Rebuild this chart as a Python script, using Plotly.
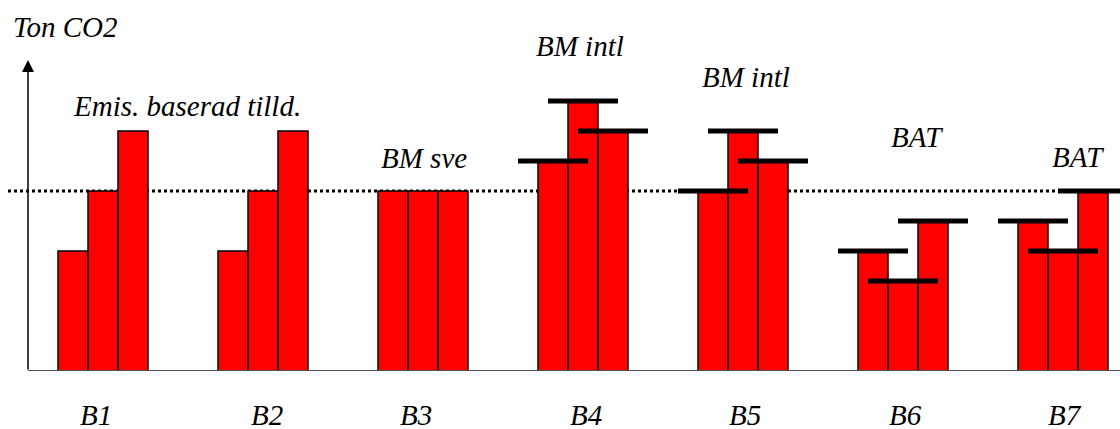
import plotly.graph_objects as go

# ---- data ----
groups = ["B1", "B2", "B3", "B4", "B5", "B6", "B7"]
bar_a = [2.0, 2.0, 3.0, 3.5, 3.0, 2.0, 2.5]
bar_b = [3.0, 3.0, 3.0, 4.5, 4.0, 1.5, 2.0]
bar_c = [4.0, 4.0, 3.0, 4.0, 3.5, 2.5, 3.0]
has_marker = [False, False, False, True, True, True, True]
ref_level = 3.0
y_label = "Ton CO2"
group_notes = ["Emis. baserad tilld.", "BM sve", "BM intl", "BM intl", "BAT", "BAT"]

# ---- layout helpers (pixel geometry of the 1120x429 canvas) ----
W, H = 1120, 429
PLOT_BOTTOM = 371          # pixel row of the zero line
PX_PER_GROUP = 160
X0_PX = 103                # pixel of first group centre
PX_PER_UNIT = 60
BAR_W = 30 / PX_PER_GROUP
MARK_HALF = 35 / PX_PER_GROUP

def xd(px):
    return (px - X0_PX) / PX_PER_GROUP

def yd(py):
    return (PLOT_BOTTOM - py) / PX_PER_UNIT

font_i = dict(family="Liberation Serif", size=29, color="black", style="italic")

fig = go.Figure()

# bars
xs, ys = [], []
for g, (a, b, c) in enumerate(zip(bar_a, bar_b, bar_c)):
    for j, v in enumerate((a, b, c)):
        xs.append(g + (j - 1) * BAR_W)
        ys.append(v)
fig.add_trace(go.Bar(
    x=xs, y=ys, width=BAR_W,
    marker=dict(color="#FF0000", line=dict(color="black", width=1.5)),
    showlegend=False, hoverinfo="skip",
))

# benchmark markers
mx, my = [], []
for g, (a, b, c) in enumerate(zip(bar_a, bar_b, bar_c)):
    if not has_marker[g]:
        continue
    for j, v in enumerate((a, b, c)):
        cx = g + (j - 1) * BAR_W
        mx += [cx - MARK_HALF, cx + MARK_HALF, None]
        my += [v, v, None]
fig.add_trace(go.Scatter(
    x=mx, y=my, mode="lines", line=dict(color="black", width=5),
    showlegend=False, hoverinfo="skip", cliponaxis=False,
))

shapes = [
    # dotted reference level
    dict(type="line", xref="x", yref="y", x0=xd(8), x1=xd(W), y0=ref_level, y1=ref_level,
         line=dict(color="black", width=3, dash="dot"), layer="below"),
    # x axis line
    dict(type="line", xref="x", yref="y", x0=xd(28), x1=xd(W), y0=0, y1=0,
         line=dict(color="#505050", width=2), layer="above"),
]

annotations = [
    # y axis with arrow
    dict(x=xd(28), y=yd(60), xref="x", yref="y", ax=xd(28), ay=0, axref="x", ayref="y",
         text="", showarrow=True, arrowhead=2, arrowsize=1.6, arrowwidth=1.5, arrowcolor="black"),
    dict(x=xd(65), y=yd(27), xref="x", yref="y", text=y_label, showarrow=False, font=font_i),
]

note_pos = [(187, 106), (424, 158), (580, 46), (746, 77), (917, 137), (1078, 157)]
for txt, (px, py) in zip(group_notes, note_pos):
    annotations.append(dict(x=xd(px), y=yd(py), xref="x", yref="y", text=txt,
                            showarrow=False, font=font_i))

label_shift = [-7, 4, -7, 3, 2, 2, 2]
for g, name in enumerate(groups):
    annotations.append(dict(x=g, y=0, xref="x", yref="y", text=name, showarrow=False,
                            xshift=label_shift[g], yshift=-44, borderpad=0, font=font_i))

fig.update_layout(
    width=W, height=H,
    margin=dict(l=0, r=0, t=0, b=H - PLOT_BOTTOM),
    paper_bgcolor="white", plot_bgcolor="white",
    xaxis=dict(range=[xd(0), xd(W)], visible=False, fixedrange=True),
    yaxis=dict(range=[0, yd(0)], visible=False, fixedrange=True),
    shapes=shapes, annotations=annotations,
    showlegend=False,
)

fig.write_html(
    "out.html",
    config={"displayModeBar": False},
    post_script="document.body.style.margin='0';document.body.style.padding='0';",
)
